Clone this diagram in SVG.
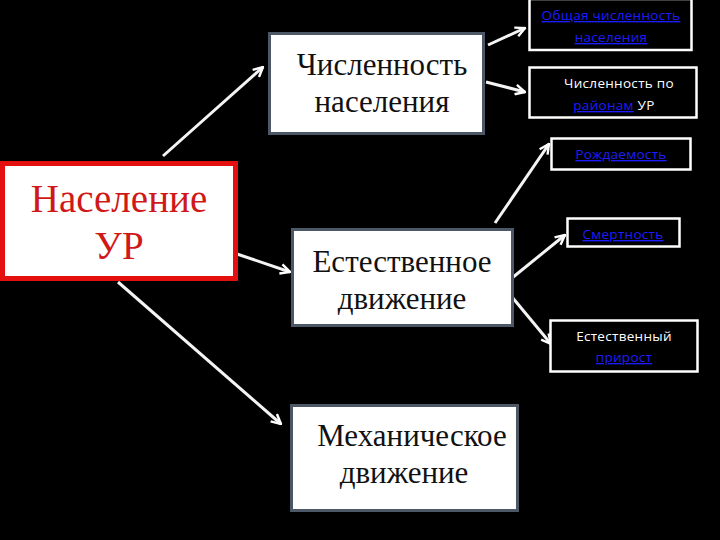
<svg xmlns="http://www.w3.org/2000/svg" width="720" height="540" viewBox="0 0 720 540">
<defs>
<marker id="ah" viewBox="0 0 10 10" refX="9" refY="5" markerWidth="4" markerHeight="4" orient="auto" markerUnits="strokeWidth">
<path d="M1,1 L9,5 L1,9" fill="none" stroke="#fff" stroke-width="2"/>
</marker>
<style>
.big{fill:#fff;stroke:#4d5866;stroke-width:3}
.bt{font-family:"Liberation Serif","Times New Roman",serif;font-size:31px;fill:#111;text-anchor:middle}
.sm{fill:#000;stroke:#fff;stroke-width:2.5}
.st{font-family:"Open Sans","Noto Sans",sans-serif;font-size:13.5px;text-anchor:middle;fill:#fff;letter-spacing:0.3px}
.ln{fill:#1c1cff;text-decoration:underline}
.cn{stroke:#f4f4f4;stroke-width:3;fill:none;marker-end:url(#ah)}
</style>
</defs>
<rect width="720" height="540" fill="#000"/>
<g id="connectors">
<line class="cn" x1="163" y1="156" x2="263" y2="67"/>
<line class="cn" x1="237" y1="254" x2="290" y2="272"/>
<line class="cn" x1="118" y1="282" x2="281" y2="424"/>
<line class="cn" x1="488" y1="45" x2="525" y2="28"/>
<line class="cn" x1="486" y1="82" x2="525" y2="92"/>
<line class="cn" x1="495" y1="223" x2="549" y2="144"/>
<line class="cn" x1="512" y1="278" x2="565" y2="235"/>
<line class="cn" x1="512" y1="297" x2="551" y2="344"/>
</g>
<g id="n-chisl">
<rect class="big" x="269.5" y="33.5" width="214" height="100"/>
<text class="bt" x="382" y="75">Численность</text>
<text class="bt" x="382" y="112">населения</text>
</g>
<g id="n-nas">
<rect x="2.5" y="163.5" width="233" height="115" fill="#fff" stroke="#e41010" stroke-width="5"/>
<text x="119" y="212" font-family="Liberation Serif, Times New Roman, serif" font-size="39" fill="#d01818" text-anchor="middle">Население</text>
<text x="119" y="259" font-family="Liberation Serif, Times New Roman, serif" font-size="39" fill="#d01818" text-anchor="middle">УР</text>
</g>
<g id="n-est">
<rect class="big" x="292.5" y="229.5" width="220" height="96"/>
<text class="bt" x="402" y="272" font-size="32">Естественное</text>
<text class="bt" x="402" y="309" font-size="32">движение</text>
</g>
<g id="n-meh">
<rect class="big" x="291.5" y="405.5" width="226" height="105"/>
<text class="bt" x="412" y="446" font-size="33">Механическое</text>
<text class="bt" x="404" y="483" font-size="33">движение</text>
</g>
<g id="n-obsh">
<rect class="sm" x="529.5" y="-1" width="162" height="51"/>
<text class="st" x="611" y="20"><tspan class="ln">Общая численность</tspan></text>
<text class="st" x="611" y="42"><tspan class="ln">населения</tspan></text>
</g>
<g id="n-rayon">
<rect class="sm" x="529.5" y="67.5" width="167" height="50"/>
<text class="st" x="619" y="88">Численность по</text>
<text class="st" x="614" y="110"><tspan class="ln">районам</tspan> УР</text>
</g>
<g id="n-rozh">
<rect class="sm" x="551.5" y="138.5" width="139" height="31"/>
<text class="st" x="621" y="159"><tspan class="ln">Рождаемость</tspan></text>
</g>
<g id="n-smert">
<rect class="sm" x="567.5" y="218.5" width="112" height="28"/>
<text class="st" x="623" y="239"><tspan class="ln">Смертность</tspan></text>
</g>
<g id="n-prir">
<rect class="sm" x="550.5" y="320.5" width="147" height="51"/>
<text class="st" x="624" y="341">Естественный</text>
<text class="st" x="624" y="362"><tspan class="ln">прирост</tspan></text>
</g>
</svg>
